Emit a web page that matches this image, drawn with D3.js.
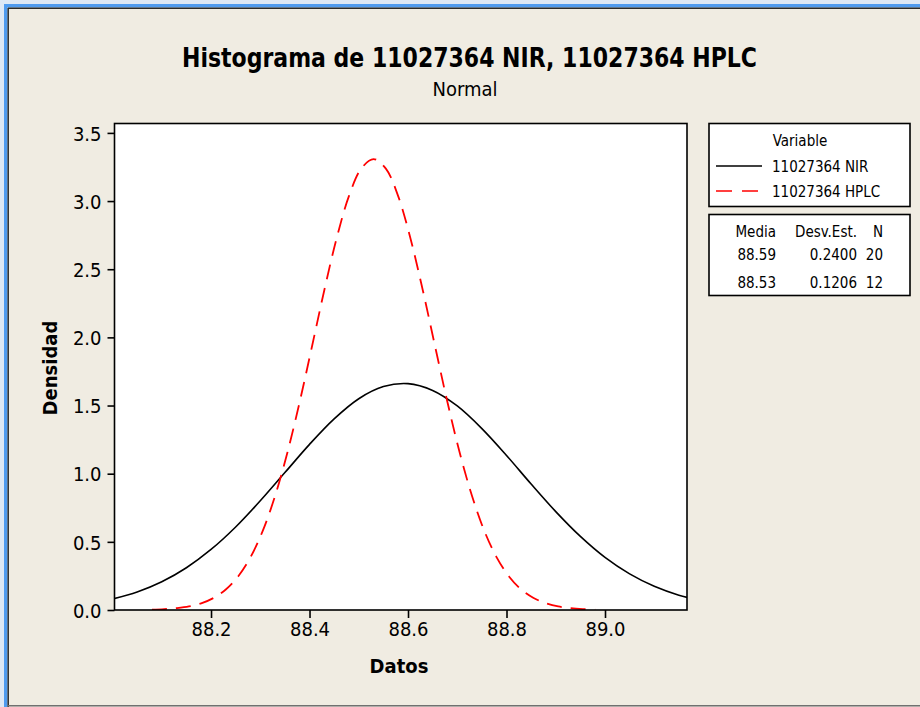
<!DOCTYPE html>
<html>
<head>
<meta charset="utf-8">
<script src="https://cdn.jsdelivr.net/npm/d3@7"></script>
<style>
  html, body { margin: 0; padding: 0; background: #F0ECE2; }
  svg { display: block; }
  text { font-family: "DejaVu Sans Condensed", "DejaVu Sans", sans-serif; fill: #000; }
</style>
</head>
<body>
<svg id="chart" width="920" height="707"></svg>
<script>
// ---- Data ----
const title = "Histograma de 11027364 NIR, 11027364 HPLC";
const subtitle = "Normal";
const xLabel = "Datos";
const yLabel = "Densidad";
const xTicks = [88.2, 88.4, 88.6, 88.8, 89.0];
const yTicks = [0.0, 0.5, 1.0, 1.5, 2.0, 2.5, 3.0, 3.5];
const seriesNames = ["11027364 NIR", "11027364 HPLC"];
const statsHeader = ["Media", "Desv.Est.", "N"];
const statsRows = [["88.59", "0.2400", "20"], ["88.53", "0.1206", "12"]];

// NIR curve: [Datos, Densidad]
const nirPoints = [
  [88.00, 0.081], [88.05, 0.132], [88.10, 0.207], [88.15, 0.310], [88.20, 0.444],
  [88.25, 0.609], [88.30, 0.801], [88.35, 1.008], [88.40, 1.215], [88.45, 1.402],
  [88.50, 1.550], [88.55, 1.639], [88.60, 1.661], [88.65, 1.611], [88.70, 1.497],
  [88.75, 1.331], [88.80, 1.134], [88.85, 0.924], [88.90, 0.722], [88.95, 0.540],
  [89.00, 0.386], [89.05, 0.265], [89.10, 0.174], [89.15, 0.109], [89.20, 0.066]
];
// HPLC curve: [Datos, Densidad]
const hplcPoints = [
  [88.080, 0.003], [88.105, 0.007], [88.130, 0.014], [88.155, 0.026], [88.180, 0.049],
  [88.205, 0.088], [88.230, 0.150], [88.255, 0.246], [88.280, 0.386], [88.305, 0.580],
  [88.330, 0.836], [88.355, 1.154], [88.380, 1.526], [88.405, 1.933], [88.430, 2.346],
  [88.455, 2.726], [88.480, 3.036], [88.505, 3.238], [88.530, 3.308], [88.555, 3.238],
  [88.580, 3.036], [88.605, 2.726], [88.630, 2.346], [88.655, 1.933], [88.680, 1.526],
  [88.705, 1.154], [88.730, 0.836], [88.755, 0.580], [88.780, 0.386], [88.805, 0.246],
  [88.830, 0.150], [88.855, 0.088], [88.880, 0.049], [88.905, 0.026], [88.930, 0.014],
  [88.955, 0.007], [88.980, 0.003]
];
const xDomain = [88.004, 89.1665];
const yDomain = [0, 3.569];

// ---- Layout ----
const svg = d3.select("#chart");
const W = 920, H = 707;
const plot = { left: 114.5, right: 687, top: 123.5, bottom: 610 };

// frame
svg.append("rect").attr("x", 0).attr("y", 0).attr("width", W).attr("height", H).attr("fill", "#F0ECE2");
svg.append("rect").attr("x", 0).attr("y", 0).attr("width", W).attr("height", 4).attr("fill", "#DDE8F6");
svg.append("rect").attr("x", 0).attr("y", 0).attr("width", 4).attr("height", H).attr("fill", "#DDE8F6");
svg.append("rect").attr("x", 4).attr("y", 4).attr("width", W - 4).attr("height", 3.5).attr("fill", "#4F9BF0");
svg.append("rect").attr("x", 4).attr("y", 4).attr("width", 3.5).attr("height", H - 4).attr("fill", "#4F9BF0");
svg.append("line").attr("x1", 8).attr("x2", W).attr("y1", 8.2).attr("y2", 8.2).attr("stroke", "#2B2B2B").attr("stroke-width", 1.5);
svg.append("line").attr("x1", 8.2).attr("x2", 8.2).attr("y1", 8).attr("y2", H).attr("stroke", "#2B2B2B").attr("stroke-width", 1.5);
svg.append("line").attr("x1", 8).attr("x2", W).attr("y1", 705.8).attr("y2", 705.8).attr("stroke", "#707070").attr("stroke-width", 1.5);

// scales
const x = d3.scaleLinear().domain(xDomain).range([plot.left, plot.right]);
const y = d3.scaleLinear().domain(yDomain).range([plot.bottom, plot.top]);

// plot background
svg.append("rect")
  .attr("x", plot.left).attr("y", plot.top)
  .attr("width", plot.right - plot.left).attr("height", plot.bottom - plot.top)
  .attr("fill", "#fff");

svg.append("clipPath").attr("id", "clip").append("rect")
  .attr("x", plot.left).attr("y", plot.top)
  .attr("width", plot.right - plot.left).attr("height", plot.bottom - plot.top);

const line = d3.line().x(d => x(d[0])).y(d => y(d[1])).curve(d3.curveCatmullRom);
const g = svg.append("g").attr("clip-path", "url(#clip)");
g.append("path").datum(nirPoints).attr("d", line)
  .attr("fill", "none").attr("stroke", "#000").attr("stroke-width", 1.6);
g.append("path").datum(hplcPoints).attr("d", line)
  .attr("fill", "none").attr("stroke", "#FF0000").attr("stroke-width", 1.8)
  .attr("stroke-dasharray", "15,9");

// plot border
svg.append("rect")
  .attr("x", plot.left).attr("y", plot.top)
  .attr("width", plot.right - plot.left).attr("height", plot.bottom - plot.top)
  .attr("fill", "none").attr("stroke", "#000").attr("stroke-width", 1.6);

// axes
const xAxis = d3.axisBottom(x).tickValues(xTicks).tickFormat(d3.format(".1f")).tickSize(8).tickPadding(4);
const yAxis = d3.axisLeft(y).tickValues(yTicks).tickFormat(d3.format(".1f")).tickSize(7).tickPadding(6);
const gx = svg.append("g").attr("transform", `translate(0,${plot.bottom})`).call(xAxis);
const gy = svg.append("g").attr("transform", `translate(${plot.left},0)`).call(yAxis);
[gx, gy].forEach(a => {
  a.select(".domain").remove();
  a.selectAll(".tick line").attr("stroke", "#000").attr("stroke-width", 1.6);
  a.selectAll(".tick text").attr("font-size", 20).attr("fill", "#000")
    .attr("font-family", '"DejaVu Sans Condensed", "DejaVu Sans", sans-serif');
});
gy.selectAll(".tick text").attr("dy", "0.36em");

// titles
svg.append("text").attr("x", 469.5).attr("y", 67).attr("text-anchor", "middle")
  .attr("font-size", 26).attr("font-weight", "bold")
  .attr("textLength", 575).attr("lengthAdjust", "spacingAndGlyphs").text(title);
svg.append("text").attr("x", 465).attr("y", 96).attr("text-anchor", "middle")
  .attr("font-size", 20).text(subtitle);
svg.append("text").attr("x", 399).attr("y", 673).attr("text-anchor", "middle")
  .attr("font-size", 20).attr("font-weight", "bold").text(xLabel);
svg.append("text").attr("transform", "translate(57,368) rotate(-90)").attr("text-anchor", "middle")
  .attr("font-size", 20).attr("font-weight", "bold").text(yLabel);

// legend box 1
const lg = { left: 709, right: 910 };
svg.append("rect").attr("x", lg.left).attr("y", 123.5).attr("width", lg.right - lg.left).attr("height", 83)
  .attr("fill", "#fff").attr("stroke", "#000").attr("stroke-width", 1.6);
svg.append("text").attr("x", 800).attr("y", 146).attr("text-anchor", "middle").attr("font-size", 15).text("Variable");
const legendRows = [
  { name: seriesNames[0], color: "#000", dash: null, y: 166 },
  { name: seriesNames[1], color: "#FF0000", dash: "16,10", y: 191 }
];
legendRows.forEach(r => {
  svg.append("line").attr("x1", 716).attr("x2", 762).attr("y1", r.y).attr("y2", r.y)
    .attr("stroke", r.color).attr("stroke-width", 1.7).attr("stroke-dasharray", r.dash);
  svg.append("text").attr("x", 772).attr("y", r.y + 5.5).attr("font-size", 15).text(r.name);
});

// legend box 2 (stats)
svg.append("rect").attr("x", lg.left).attr("y", 214.5).attr("width", lg.right - lg.left).attr("height", 81)
  .attr("fill", "#fff").attr("stroke", "#000").attr("stroke-width", 1.6);
const colRight = [776, 857, 883];
const rowY = [237, 260, 288];
statsHeader.forEach((t, i) => {
  svg.append("text").attr("x", colRight[i]).attr("y", rowY[0]).attr("text-anchor", "end").attr("font-size", 15).text(t);
});
statsRows.forEach((row, j) => {
  row.forEach((t, i) => {
    svg.append("text").attr("x", colRight[i]).attr("y", rowY[j + 1]).attr("text-anchor", "end").attr("font-size", 15).text(t);
  });
});
</script>
</body>
</html>
